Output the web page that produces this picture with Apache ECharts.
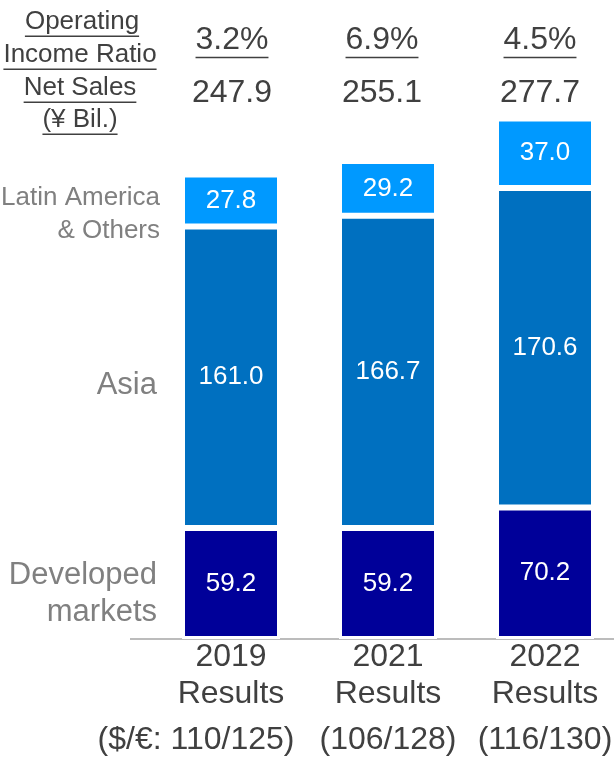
<!DOCTYPE html>
<html>
<head>
<meta charset="UTF-8">
<title>Net Sales by Region</title>
<script src="https://cdn.jsdelivr.net/npm/echarts@6/dist/echarts.min.js"></script>
<style>html,body{margin:0;padding:0;background:#fff}</style>
</head>
<body>
<div id="main" style="width:614px;height:758px"></div>
<script type="text/javascript">
var years = ['2019', '2021', '2022'];
var fxRates = ['($/€: 110/125)', '(106/128)', '(116/130)'];
var opRatio = ['3.2%', '6.9%', '4.5%'];
var netSales = ['247.9', '255.1', '277.7'];
var developed = [59.2, 59.2, 70.2];
var asia = [161.0, 166.7, 170.6];
var latam = [27.8, 29.2, 37.0];

var FONT = '"Liberation Sans", Arial, sans-serif';
var dark = '#404040';
var grey = '#808080';

var myChart = echarts.init(document.getElementById('main'));

function segment(name, data, color) {
    return {
        name: name,
        type: 'bar',
        stack: 'sales',
        barWidth: 98,
        data: data,
        // border is drawn inside the bar, so it leaves a white gap between stacks
        itemStyle: { color: color, borderColor: '#fff', borderWidth: 3 },
        label: {
            show: true,
            position: 'inside',
            color: '#fff',
            fontSize: 26,
            fontFamily: FONT,
            formatter: function (p) { return p.value.toFixed(1); }
        }
    };
}

var option = {
    animation: false,
    backgroundColor: '#fff',
    grid: { left: 152.5, width: 471, top: 77, bottom: 119, outerBoundsMode: 'none', containLabel: false },
    xAxis: {
        type: 'category',
        data: years,
        axisLine: { show: false },
        axisTick: { show: false },
        axisLabel: {
            interval: 0,
            margin: 0,
            fontFamily: FONT,
            formatter: function (v, i) {
                return '{y|' + v + '}\n{y|Results}\n{' + (i === 0 ? 'f0' : 'f') + '|' + fxRates[i] + '}';
            },
            rich: {
                y: { fontSize: 32, lineHeight: 37, color: dark, fontFamily: FONT },
                f: { fontSize: 32, lineHeight: 55, color: dark, fontFamily: FONT },
                f0: { fontSize: 32, lineHeight: 55, color: dark, fontFamily: FONT, padding: [0, 70, 0, 0] }
            }
        }
    },
    yAxis: { type: 'value', min: 0, max: 300, show: false },
    series: [
        segment('Developed markets', developed, '#000099'),
        segment('Asia', asia, '#0070C0'),
        segment('Latin America & Others', latam, '#0099FF')
    ]
};
myChart.setOption(option);

// text widths for underlines
var ctx = document.createElement('canvas').getContext('2d');
function textW(str, size) {
    ctx.font = size + 'px ' + FONT;
    return ctx.measureText(str).width;
}

var g = [];
function addText(str, x, y, size, color, align, underline) {
    g.push({
        type: 'text', x: x, y: y,
        style: { text: str, fill: color, fontSize: size, fontFamily: FONT, align: align, verticalAlign: 'middle' }
    });
    if (underline) {
        var w = textW(str, size);
        var x0 = align === 'center' ? x - w / 2 : (align === 'right' ? x - w : x);
        var uy = y + size * 0.55;
        g.push({
            type: 'line',
            shape: { x1: x0, y1: uy, x2: x0 + w, y2: uy },
            style: { stroke: color, lineWidth: 1.5 }
        });
    }
}

// header block on the left
addText('Operating', 82, 22, 26, dark, 'center', true);
addText('Income Ratio', 80, 55, 26, dark, 'center', true);
addText('Net Sales', 80, 88, 26, dark, 'center', true);
addText('(¥ Bil.)', 80, 120, 26, dark, 'center', true);

// ratio and sales above each bar (table columns sit a little left of the bars)
var colShift = [1, -6, -5];
years.forEach(function (yr, i) {
    var cx = myChart.convertToPixel({ xAxisIndex: 0 }, yr) + colShift[i];
    addText(opRatio[i], cx, 40, 32, dark, 'center', true);
    addText(netSales[i], cx, 93, 32, dark, 'center', false);
});

// region names
addText('Latin America', 160, 198, 26, grey, 'right', false);
addText('& Others', 160, 231, 26, grey, 'right', false);
addText('Asia', 157, 385, 31, grey, 'right', false);
addText('Developed', 157, 575, 31, grey, 'right', false);
addText('markets', 157, 612, 31, grey, 'right', false);

// baseline
var y0 = myChart.convertToPixel({ yAxisIndex: 0 }, 0);
g.push({
    type: 'line',
    shape: { x1: 130, y1: y0, x2: 614, y2: y0 },
    style: { stroke: '#a6a6a6', lineWidth: 1.5 }
});

myChart.setOption({ graphic: g });
</script>
</body>
</html>
